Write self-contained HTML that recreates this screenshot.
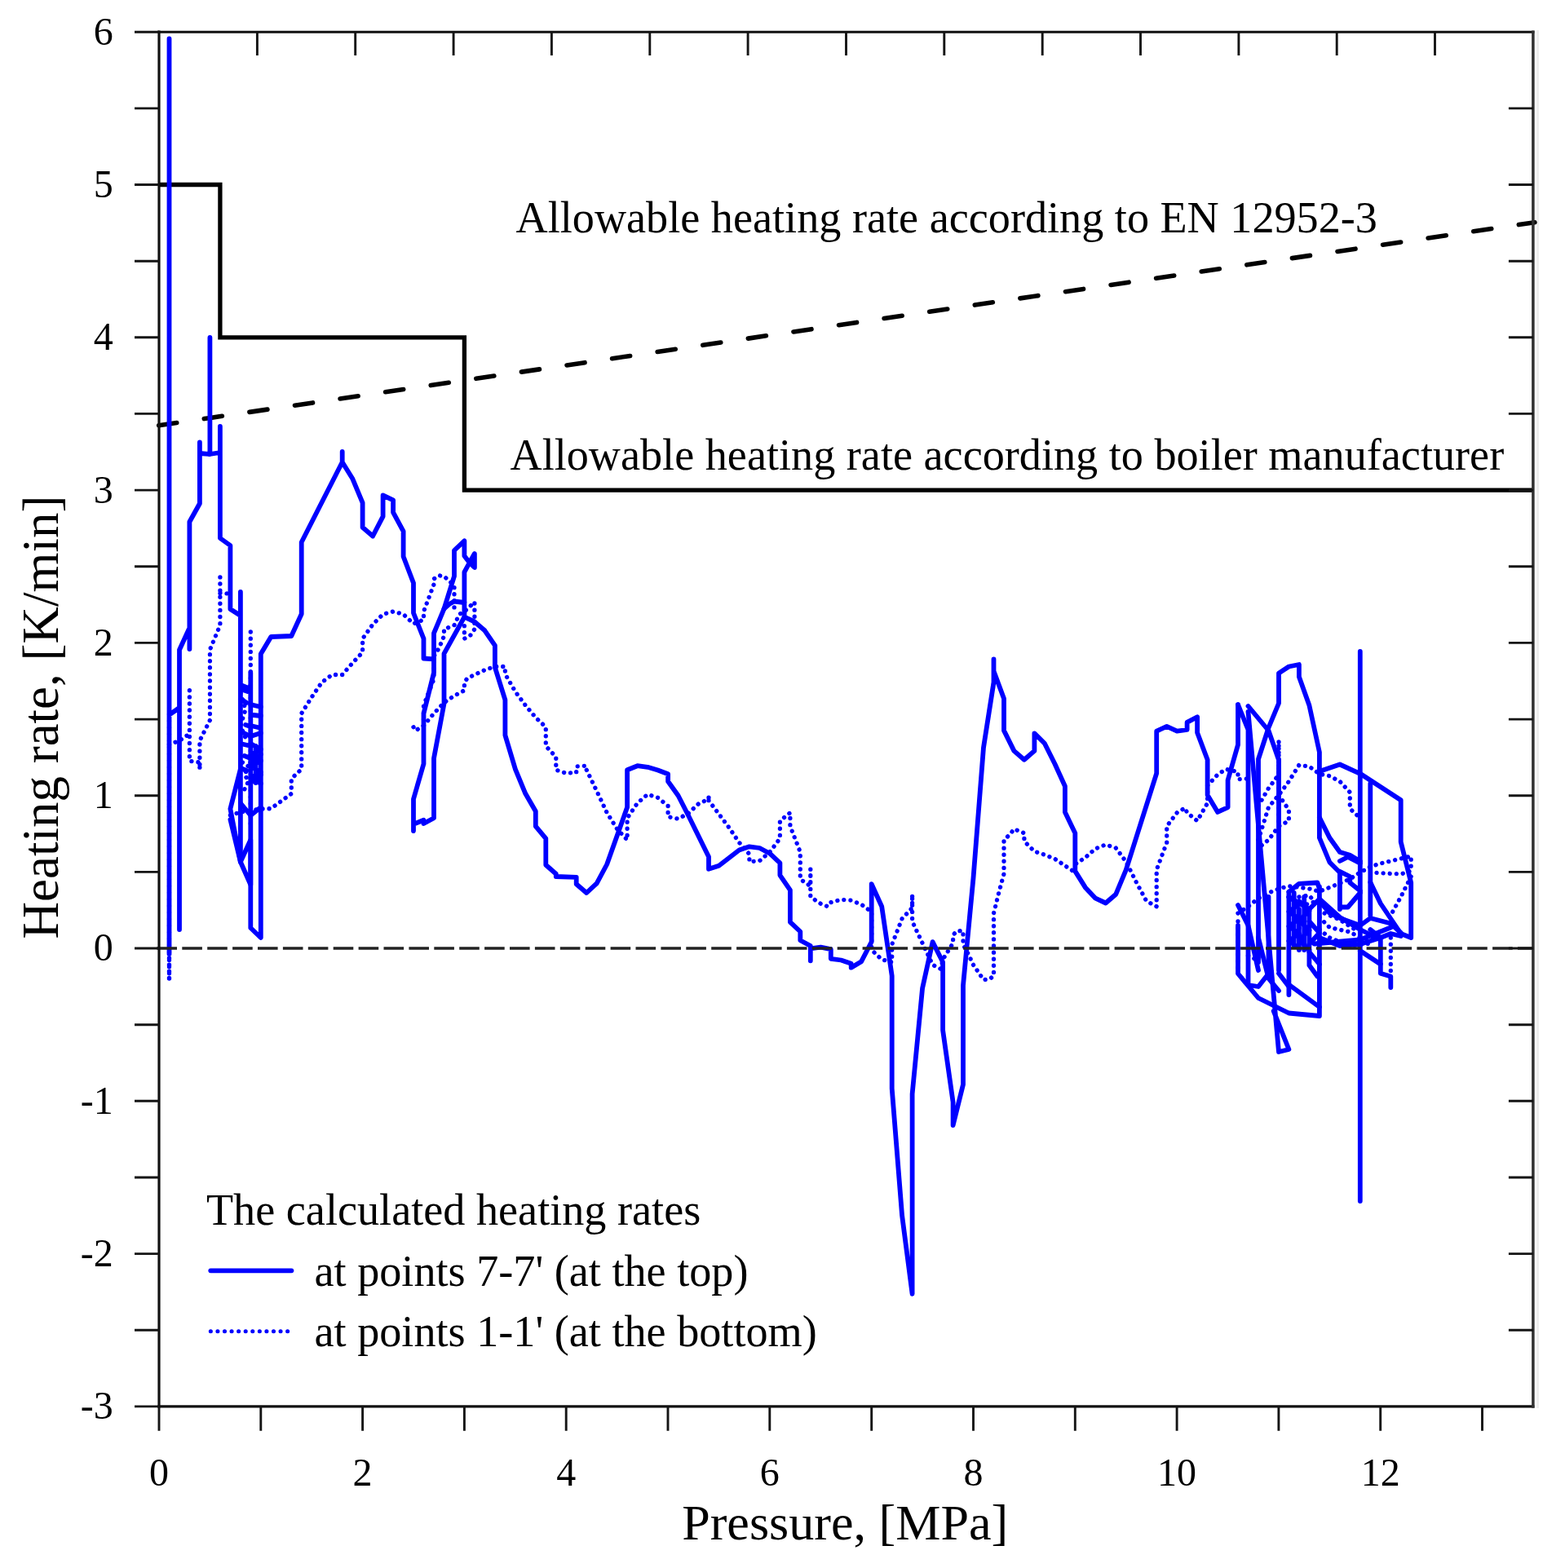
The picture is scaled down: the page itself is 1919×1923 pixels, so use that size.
<!DOCTYPE html>
<html lang="en"><head><meta charset="utf-8"><title>Heating rate vs pressure</title>
<style>html,body{margin:0;padding:0;background:#fff}body{width:1919px;height:1923px;overflow:hidden}</style></head>
<body>
<svg width="1919" height="1923" viewBox="0 0 1919 1923" style="display:block;font-family:'Liberation Serif','Times New Roman',serif">
<rect width="1919" height="1923" fill="#fff"/>
<rect x="1884.2" y="37" width="2.7" height="1690" fill="#ececec"/>
<path d="M195.0,226.5 H269.9 V413.8 H569.4 V601.1 H1879.9" fill="none" stroke="#000" stroke-width="5.3" stroke-linejoin="miter"/>
<line x1="194.7" y1="521.8" x2="1881.9" y2="272.7" stroke="#000" stroke-width="5.6" stroke-dasharray="22.3 33.89" stroke-linecap="round"/>
<g fill="none" stroke="#0000ff" stroke-linejoin="round" stroke-linecap="round">
<g stroke-width="5.3" stroke-dasharray="0.1 8.0">
<path d="M207.5,876.0L207.5,1202.0"/>
<path d="M207.5,1175.0L207.5,1203.0"/>
<path d="M207.5,1177.5L207.5,1201.0"/>
<path d="M207.5,913.3L220.0,908.3L232.4,900.0"/>
<path d="M232.4,846.7L232.4,933.3L244.9,935.0L244.9,943.3L244.9,908.3L257.4,883.3L257.4,796.7L269.9,766.7L269.9,703.0"/>
<path d="M269.9,727.5L282.4,728.0"/>
<path d="M307.3,775.0L307.3,1010.0"/>
<path d="M282.4,1000.0L294.9,996.0L319.8,992.0L332.3,991.7L357.3,973.3L357.3,955.0L369.7,943.3L369.7,875.0L382.2,855.0L394.7,836.7L407.2,827.5L419.7,827.5L432.1,813.3L444.6,800.0L444.6,783.3L457.1,765.8L469.6,753.3L482.1,750.0L494.6,753.3L507.0,765.0L519.5,760.0L519.5,750.0L532.0,716.7L532.0,710.0L538.2,705.8L544.5,706.7L557.0,718.3L557.0,745.0"/>
<path d="M507.0,891.7L509.5,896.0L519.5,890.0L519.5,865.0L532.0,833.0L532.0,805.0L538.2,795.0L544.5,780.0L544.5,771.7L557.0,766.7L563.2,753.3L569.4,750.0L581.9,738.3L581.9,771.7L576.9,779.0L569.4,783.3L569.4,766.7"/>
<path d="M519.5,890.0L532.0,875.0L544.5,861.7L557.0,853.3L569.4,846.7L569.4,836.7L573.2,831.7L581.9,827.5L594.4,821.7L606.9,817.5L619.4,817.5L619.4,826.7L631.9,848.3L644.3,865.0L656.8,880.0L669.3,891.7L669.3,915.0L681.8,928.3L681.8,944.2L694.3,948.3L706.7,947.5L706.7,940.0L719.2,939.2L719.2,944.2L731.7,970.0L744.2,996.7L756.7,1016.7L769.1,1030.0L769.1,1003.3L781.6,985.0L794.1,974.2L806.6,978.3L819.1,988.3L819.1,1001.7L831.6,1004.2L844.0,997.5L856.5,985.8L869.0,980.0L869.0,975.8L869.0,981.7L881.5,998.3L894.0,1015.0L906.4,1033.3L918.9,1047.5L918.9,1056.7L931.4,1055.8L943.9,1045.0L956.4,1028.3L956.4,1006.7L968.9,996.7L968.9,1013.3L981.3,1045.0L981.3,1078.3L993.8,1086.7L993.8,1065.8L993.8,1100.0L1006.3,1108.3L1015.0,1111.7L1018.8,1106.7L1031.3,1103.3L1043.7,1104.2L1056.2,1109.2L1068.7,1118.3L1068.7,1165.0L1081.2,1176.7L1093.7,1180.0L1093.7,1158.3L1106.1,1126.7L1118.6,1113.3L1118.6,1096.7L1118.6,1130.0L1131.1,1156.7L1137.4,1170.0L1143.6,1183.3L1153.6,1188.3L1156.1,1176.7L1168.6,1156.7L1168.6,1146.7L1173.5,1141.7L1181.0,1141.7L1181.0,1158.3L1187.3,1170.0L1193.5,1183.3L1206.0,1201.7L1213.5,1200.8L1218.5,1196.7L1218.5,1120.0L1224.7,1095.0L1231.0,1071.7L1231.0,1030.0L1238.5,1023.3L1243.4,1016.7L1255.9,1021.7L1255.9,1031.7L1268.4,1044.2L1280.9,1048.3L1293.4,1053.3L1305.9,1061.7L1318.3,1070.0L1318.3,1060.0L1330.8,1051.7L1343.3,1040.8L1355.8,1035.8L1368.3,1040.0L1380.7,1056.7L1393.2,1081.7L1405.7,1105.0L1418.2,1111.7L1418.2,1066.7L1430.7,1033.3L1430.7,1013.3L1443.2,996.7L1453.1,990.8L1455.6,996.7L1468.1,1006.7L1480.6,985.0L1480.6,963.3L1493.1,950.0L1503.1,943.3L1518.0,946.7L1518.0,955.8L1530.5,955.0"/>
<path d="M1543.0,988.3L1555.5,966.7L1568.0,950.0L1568.0,908.3L1568.0,1008.0"/>
<path d="M1543.0,1030.0L1555.5,990.0L1568.0,975.0L1580.4,958.3L1592.9,938.3L1605.4,940.0L1617.9,949.2L1630.4,951.7L1642.9,958.3L1655.3,971.7L1655.3,991.7L1667.8,1003.3"/>
<path d="M1568.0,975.0L1580.4,993.3L1580.4,1006.7L1568.0,1013.3L1555.5,1030.0L1543.0,1040.0"/>
<path d="M1518.0,1120.0L1530.5,1111.7L1543.0,1101.7L1555.5,1095.0L1568.0,1090.0L1580.4,1086.7L1592.9,1088.3L1605.4,1090.0L1617.9,1093.3L1630.4,1088.3L1642.9,1083.3L1655.3,1078.0L1667.8,1070.0L1680.3,1063.0L1692.8,1059.0L1717.7,1053.0L1730.2,1050.0L1730.2,1068.0L1717.7,1072.0L1680.3,1070.0"/>
<path d="M1518.0,1130.0L1518.0,1190.0"/>
<path d="M1592.9,1100.0L1605.4,1098.0L1611.7,1106.0L1599.2,1110.0"/>
<path d="M1617.9,1125.0L1630.4,1137.5L1655.3,1143.0L1667.8,1150.0L1692.8,1152.0"/>
<path d="M1730.2,1075.0L1717.7,1100.0L1705.3,1122.5"/>
<path d="M1705.3,1150.0L1705.3,1200.0"/>
<path d="M1530.5,1172.0L1543.0,1178.0"/>
<path d="M1592.9,1130.0L1592.9,1160.0"/>
<path d="M1617.9,1140.0L1630.4,1150.0L1655.3,1160.0L1680.3,1157.0"/>
<path d="M297.3,935.0L304.8,940.0L299.8,950.0L304.8,958.0L299.8,968.0"/>
<path d="M294.9,850.0L301.1,870.0L294.9,890.0L301.1,905.0"/>
<path d="M1624.1,1120.0L1642.9,1128.0L1661.6,1140.0"/>
</g>
<g stroke-width="5.8">
<path d="M207.5,1170.0L207.5,47.5L207.5,876.7L220.0,868.0L220.0,1140.0L220.0,797.0L232.4,770.0L232.4,796.0L232.4,640.0L244.9,617.5L244.9,542.5L244.9,556.0L257.4,557.0L257.4,414.0L257.4,557.0L269.9,555.0L269.9,523.0L269.9,660.0L282.4,669.0L282.4,747.0L294.9,755.0L294.9,726.0L294.9,943.0L282.4,992.0L294.9,1057.0L294.9,840.0L307.3,845.0L307.3,825.0L307.3,1138.0L319.8,1150.0L319.8,802.0L332.3,781.0L357.3,780.0L369.7,753.0L369.7,665.0L419.7,566.7L419.7,554.0L419.7,566.7L432.1,586.7L444.6,616.7L444.6,646.7L457.1,657.5L469.6,633.3L469.6,607.5L482.1,613.3L482.1,628.3L494.6,651.7L494.6,682.5L507.0,715.0L507.0,751.7L519.5,783.3L519.5,807.5L532.0,808.3L532.0,825.0L519.5,875.0L519.5,936.7L507.0,980.0L507.0,1019.0L507.0,1010.8L519.5,1005.8L519.5,1010.0L532.0,1003.3L532.0,930.0L544.5,863.0L544.5,801.7L569.4,756.7L581.9,762.5L594.4,773.3L606.9,791.7L606.9,818.3L619.4,858.3L619.4,901.7L631.9,943.3L644.3,973.3L656.8,995.0L656.8,1013.3L669.3,1028.3L669.3,1060.8L681.8,1071.7L681.8,1075.0L706.7,1075.8L706.7,1084.2L719.2,1095.0L731.7,1083.3L744.2,1060.0L769.1,990.0L769.1,944.2L781.6,939.2L794.1,940.8L806.6,944.5L819.1,949.2L819.1,958.3L831.6,975.8L844.0,1000.0L869.0,1050.8L869.0,1065.8L881.5,1061.7L906.4,1042.5L918.9,1038.3L931.4,1040.0L943.9,1046.7L956.4,1058.3L956.4,1073.3L968.9,1091.7L968.9,1130.8L981.3,1142.5L981.3,1153.3L993.8,1160.0L993.8,1178.3L993.8,1163.3L1006.3,1161.7L1018.8,1164.2L1018.8,1175.8L1031.3,1177.5L1043.7,1181.7L1043.7,1186.7L1056.2,1179.2L1068.7,1155.0L1068.7,1084.2L1081.2,1111.7L1093.7,1196.8L1093.7,1335.0L1106.1,1490.7L1118.6,1586.8L1118.6,1341.7L1131.1,1211.8L1143.6,1155.1L1156.1,1180.0L1156.1,1263.4L1168.6,1351.7L1168.6,1380.0L1181.0,1330.0L1181.0,1208.4L1193.5,1076.7L1206.0,916.7L1218.5,836.7L1218.5,808.4L1218.5,823.0L1231.0,856.7L1231.0,895.9L1243.4,920.9L1255.9,931.8L1268.4,920.9L1268.4,899.3L1280.9,911.8L1293.4,936.8L1305.9,964.3L1305.9,996.0L1318.3,1021.8L1318.3,1068.4L1330.8,1088.4L1343.3,1101.7L1355.8,1107.5L1368.3,1096.7L1380.7,1066.8L1418.2,948.4L1418.2,896.7L1430.7,890.9L1443.2,896.7L1455.6,895.0L1455.6,885.9L1468.1,879.2L1468.1,898.4L1480.6,931.7L1480.6,975.1L1493.1,995.9L1505.6,990.1L1505.6,956.7L1518.0,913.4L1518.0,864.2"/>
<path d="M532.0,808.0L532.0,776.7L544.5,746.7L557.0,706.7L557.0,675.0L569.4,663.3L569.4,681.7L575.7,690.0L581.9,679.0L581.9,696.0L575.7,690.0L569.4,701.7L569.4,756.7"/>
<path d="M544.5,746.7L550.7,741.0L557.0,737.5L569.4,739.0"/>
<path d="M294.9,897.0L307.3,903.0L319.8,899.0"/>
<path d="M307.3,960.0L319.8,950.0"/>
<path d="M294.9,985.0L307.3,1000.0L319.8,990.0"/>
<path d="M294.9,1057.0L307.3,1030.0L307.3,1085.0L294.9,1057.0"/>
<path d="M282.4,1005.0L294.9,1057.0"/>
<path d="M307.3,935.0L319.8,925.0"/>
<path d="M1518.0,864.2L1530.5,895.0L1530.5,1208.0L1543.0,1210.0L1555.5,1194.0"/>
<path d="M1530.5,866.0L1555.5,896.0L1568.0,932.0L1568.0,1190.0"/>
<path d="M1530.5,873.0L1568.0,1290.0L1580.4,1287.0L1561.7,1240.0"/>
<path d="M1543.0,1180.0L1543.0,931.0L1555.5,892.5L1568.0,862.5L1568.0,825.6L1580.4,817.5L1592.9,815.0L1592.9,830.0L1605.4,865.0L1617.9,922.5L1617.9,1027.5L1630.4,1057.5L1642.9,1070.0L1642.9,1115.0"/>
<path d="M1617.9,946.0L1642.9,937.5L1667.8,948.8L1717.7,981.3L1717.7,1032.5L1730.2,1082.5L1730.2,1150.0L1717.7,1145.0L1692.8,1108.0L1680.3,1082.0"/>
<path d="M1667.8,799.0L1667.8,1473.0"/>
<path d="M1680.3,961.0L1680.3,1122.5"/>
<path d="M1617.9,1002.5L1630.4,1027.5L1642.9,1045.0L1655.3,1048.8L1667.8,1056.3"/>
<path d="M1642.9,1056.0L1652.8,1051.0L1667.8,1058.8"/>
<path d="M1642.9,1068.8L1655.3,1075.0L1655.3,1082.5L1667.8,1092.5"/>
<path d="M1642.9,1112.5L1652.8,1112.5L1667.8,1095.0"/>
<path d="M1617.9,1087.5L1617.9,1246.0L1580.4,1242.5L1543.0,1224.0L1518.0,1194.0L1518.0,1135.0"/>
<path d="M1617.9,1105.0L1630.4,1120.0L1642.9,1126.0L1667.8,1135.0L1680.3,1126.0L1705.3,1132.5L1717.7,1144.0"/>
<path d="M1580.4,1093.8L1592.9,1083.8L1615.4,1082.5L1617.9,1090.0"/>
<path d="M1580.4,1093.8L1580.4,1220.0"/>
<path d="M1580.4,1100.0L1605.4,1115.0L1617.9,1102.5L1642.9,1125.0L1667.8,1140.0L1692.8,1152.5L1692.8,1193.8L1705.3,1197.5L1705.3,1211.0"/>
<path d="M1592.9,1115.0L1592.9,1165.0"/>
<path d="M1605.4,1115.0L1605.4,1183.8L1615.4,1197.5"/>
<path d="M1605.4,1167.5L1617.9,1182.5"/>
<path d="M1580.4,1207.5L1617.9,1235.0"/>
<path d="M1568.0,1193.8L1580.4,1210.0"/>
<path d="M1667.8,1166.0L1692.8,1182.5"/>
<path d="M1611.7,1157.5L1667.8,1152.5L1705.3,1137.5"/>
<path d="M1586.7,1095.0L1586.7,1160.0"/>
<path d="M1555.5,1100.0L1555.5,1194.0"/>
<path d="M307.3,912.0L319.8,919.0L307.3,926.0L319.8,933.0L307.3,940.0L319.8,947.0L307.3,954.0L319.8,961.0"/>
<path d="M313.6,915.0L313.6,960.0"/>
<path d="M294.9,845.0L303.6,848.0"/>
<path d="M294.9,857.0L302.3,862.0"/>
<path d="M301.1,889.0L307.3,891.0"/>
<path d="M294.9,912.0L303.6,914.0"/>
<path d="M299.8,927.0L307.3,930.0"/>
<path d="M294.9,942.0L302.3,945.0"/>
<path d="M307.3,864.0L319.8,867.0"/>
<path d="M311.1,877.0L319.8,878.0"/>
<path d="M307.3,890.0L316.1,892.0"/>
<path d="M1580.4,1100.0L1592.9,1109.0L1580.4,1118.0L1592.9,1127.0L1580.4,1136.0L1592.9,1145.0L1580.4,1154.0L1592.9,1163.0"/>
<path d="M1592.9,1105.0L1605.4,1117.0L1592.9,1129.0L1605.4,1141.0L1592.9,1153.0L1605.4,1165.0"/>
<path d="M1599.2,1100.0L1599.2,1165.0"/>
<path d="M1605.4,1130.0L1617.9,1144.0L1605.4,1158.0"/>
<path d="M1617.9,1150.0L1642.9,1160.0L1667.8,1158.0L1692.8,1150.0"/>
<path d="M1680.3,1140.0L1692.8,1150.0L1705.3,1145.0L1717.7,1148.0"/>
<path d="M1518.0,1110.0L1530.5,1135.0L1543.0,1190.0"/>
<path d="M1543.0,1150.0L1555.5,1200.0L1568.0,1215.0"/>
</g>
</g>
<line x1="192.4" y1="1163.0" x2="1879.9" y2="1163.0" stroke="#222" stroke-width="3.3" stroke-dasharray="24.6 6.3"/>
<g fill="none" stroke-linecap="square">
<line x1="195.0" y1="39.2" x2="1879.9" y2="39.2" stroke="#111" stroke-width="3.1"/>
<line x1="195.0" y1="1724.9" x2="1879.9" y2="1724.9" stroke="#111" stroke-width="3.1"/>
<line x1="195.0" y1="39.2" x2="195.0" y2="1724.9" stroke="#111" stroke-width="3.2"/>
<line x1="1879.9" y1="39.2" x2="1879.9" y2="1724.9" stroke="#303030" stroke-width="3.5"/>
</g>
<g stroke="#151515" stroke-width="2.9" fill="none">
<path d="M195.0,1724.9v29.8 M319.8,1724.9v29.8 M444.6,1724.9v29.8 M569.4,1724.9v29.8 M694.2,1724.9v29.8 M819.0,1724.9v29.8 M943.8,1724.9v29.8 M1068.7,1724.9v29.8 M1193.5,1724.9v29.8 M1318.3,1724.9v29.8 M1443.1,1724.9v29.8 M1567.9,1724.9v29.8 M1692.7,1724.9v29.8 M1817.5,1724.9v29.8 M315.4,39.2v28.8 M435.7,39.2v28.8 M556.1,39.2v28.8 M676.4,39.2v28.8 M796.8,39.2v28.8 M917.1,39.2v28.8 M1037.5,39.2v28.8 M1157.8,39.2v28.8 M1278.2,39.2v28.8 M1398.5,39.2v28.8 M1518.9,39.2v28.8 M1639.2,39.2v28.8 M1759.5,39.2v28.8 M195.0,39.2h-30 M195.0,132.9h-30 M1879.9,132.9h-30 M195.0,226.5h-30 M1879.9,226.5h-30 M195.0,320.2h-30 M1879.9,320.2h-30 M195.0,413.8h-30 M1879.9,413.8h-30 M195.0,507.4h-30 M1879.9,507.4h-30 M195.0,601.1h-30 M1879.9,601.1h-30 M195.0,694.8h-30 M1879.9,694.8h-30 M195.0,788.4h-30 M1879.9,788.4h-30 M195.0,882.1h-30 M1879.9,882.1h-30 M195.0,975.7h-30 M1879.9,975.7h-30 M195.0,1069.4h-30 M1879.9,1069.4h-30 M195.0,1163.0h-30 M1879.9,1163.0h-30 M195.0,1256.7h-30 M1879.9,1256.7h-30 M195.0,1350.3h-30 M1879.9,1350.3h-30 M195.0,1444.0h-30 M1879.9,1444.0h-30 M195.0,1537.6h-30 M1879.9,1537.6h-30 M195.0,1631.3h-30 M1879.9,1631.3h-30 M195.0,1724.9h-30"/>
</g>
<g font-size="48" fill="#000">
<text x="195.0" y="1821.8" text-anchor="middle">0</text>
<text x="444.6" y="1821.8" text-anchor="middle">2</text>
<text x="694.2" y="1821.8" text-anchor="middle">4</text>
<text x="943.8" y="1821.8" text-anchor="middle">6</text>
<text x="1193.5" y="1821.8" text-anchor="middle">8</text>
<text x="1443.1" y="1821.8" text-anchor="middle">10</text>
<text x="1692.7" y="1821.8" text-anchor="middle">12</text>
<text x="138.8" y="1740.3" text-anchor="end">-3</text>
<text x="138.8" y="1553.0" text-anchor="end">-2</text>
<text x="138.8" y="1365.7" text-anchor="end">-1</text>
<text x="138.8" y="1178.4" text-anchor="end">0</text>
<text x="138.8" y="991.1" text-anchor="end">1</text>
<text x="138.8" y="803.8" text-anchor="end">2</text>
<text x="138.8" y="616.5" text-anchor="end">3</text>
<text x="138.8" y="429.2" text-anchor="end">4</text>
<text x="138.8" y="241.9" text-anchor="end">5</text>
<text x="138.8" y="54.6" text-anchor="end">6</text>
</g>
<g font-size="54.2" fill="#000">
<text x="632.6" y="284.8">Allowable heating rate according to EN 12952-3</text>
<text x="625.5" y="576.3">Allowable heating rate according to boiler manufacturer</text>
<text x="253" y="1502.3">The calculated heating rates</text>
<text x="385.5" y="1576.7">at points 7-7' (at the top)</text>
<text x="385.5" y="1651">at points 1-1' (at the bottom)</text>
</g>
<g fill="none" stroke="#0000ff">
<line x1="258.3" y1="1558.3" x2="357.4" y2="1558.3" stroke-width="5.8" stroke-linecap="round"/>
<line x1="258.3" y1="1632.7" x2="353.5" y2="1632.7" stroke-width="5.0" stroke-dasharray="0.1 8.47" stroke-linecap="round"/>
</g>
<text x="1036.2" y="1888.4" font-size="62.1" text-anchor="middle" fill="#000">Pressure, [MPa]</text>
<text transform="translate(71,879.5) rotate(-90)" font-size="63" text-anchor="middle" fill="#000">Heating rate, [K/min]</text>
</svg>
</body></html>
